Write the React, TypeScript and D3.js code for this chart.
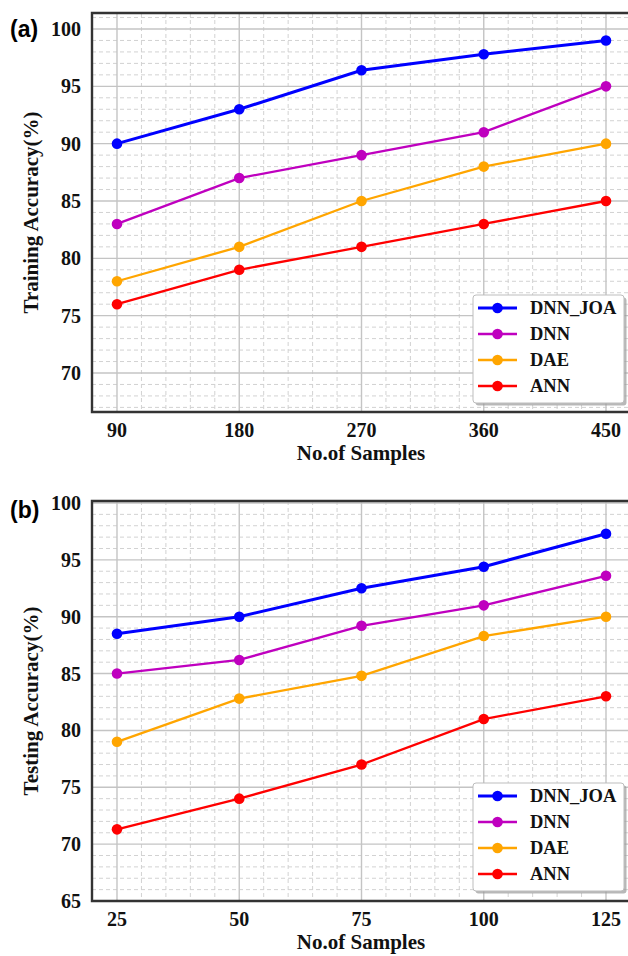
import React from "react";
import * as d3 from "d3";

const seriesNames = ["DNN_JOA", "DNN", "DAE", "ANN"];
const seriesColors = ["#0000ff", "#bf00bf", "#ffa500", "#ff0000"];
const seriesWidths = [3, 2.3, 2.3, 2.3];

const samplesA = [90, 180, 270, 360, 450];
const trainDNNJOA = [90, 93, 96.4, 97.8, 99];
const trainDNN = [83, 87, 89, 91, 95];
const trainDAE = [78, 81, 85, 88, 90];
const trainANN = [76, 79, 81, 83, 85];
const yTicksA = [70, 75, 80, 85, 90, 95, 100];

const samplesB = [25, 50, 75, 100, 125];
const testDNNJOA = [88.5, 90, 92.5, 94.4, 97.3];
const testDNN = [85, 86.2, 89.2, 91, 93.6];
const testDAE = [79, 82.8, 84.8, 88.3, 90];
const testANN = [71.3, 74, 77, 81, 83];
const yTicksB = [65, 70, 75, 80, 85, 90, 95, 100];

const SERIF = "'Liberation Serif', 'Times New Roman', serif";
const SANS = "'Liberation Sans', Arial, sans-serif";

type PanelProps = {
  label: string;
  yTitle: string;
  xs: number[];
  series: number[][];
  yTicks: number[];
  xMinorStep: number;
  xMap: [number, number];
  yMap: [number, number, number, number];
  plotTop: number;
  plotBottom: number;
  legendTop: number;
  labelY: number;
};

function Panel(p: PanelProps) {
  const left = 92;
  const right = 628;
  const x = d3.scaleLinear().domain([p.xs[0], p.xs[p.xs.length - 1]]).range(p.xMap);
  const y = d3.scaleLinear().domain([p.yMap[0], p.yMap[1]]).range([p.yMap[2], p.yMap[3]]);
  const xMin = x.invert(left), xMax = x.invert(right);
  const yMin = y.invert(p.plotBottom), yMax = y.invert(p.plotTop);
  const xMinor = d3.range(Math.ceil(xMin / p.xMinorStep) * p.xMinorStep, xMax, p.xMinorStep)
    .filter((v) => !p.xs.includes(v));
  const yMinor = d3.range(Math.ceil(yMin), yMax, 1).filter((v) => v % 5 !== 0);
  const yMajor = d3.range(Math.ceil(yMin / 5) * 5, yMax, 5);
  const line = d3.line<number>().x((_, i) => x(p.xs[i])).y((v) => y(v));
  const clipId = "clip" + p.label.replace(/\W/g, "");
  const midY = (p.plotTop + p.plotBottom) / 2;
  const legX = 473, legW = 151, legH = 108;
  return (
    <g>
      <defs>
        <clipPath id={clipId}>
          <rect x={left} y={p.plotTop} width={right - left} height={p.plotBottom - p.plotTop} />
        </clipPath>
      </defs>
      <g clipPath={`url(#${clipId})`}>
        {yMinor.map((v) => (
          <line key={"ym" + v} x1={left} x2={right} y1={y(v)} y2={y(v)} stroke="#d2d2d2" strokeWidth={1} strokeDasharray="4,3" />
        ))}
        {xMinor.map((v) => (
          <line key={"xm" + v} x1={x(v)} x2={x(v)} y1={p.plotTop} y2={p.plotBottom} stroke="#d2d2d2" strokeWidth={1} strokeDasharray="4,3" />
        ))}
        {yMajor.map((v) => (
          <line key={"yM" + v} x1={left} x2={right} y1={y(v)} y2={y(v)} stroke="#c4c4c4" strokeWidth={1.4} />
        ))}
        {p.xs.map((v) => (
          <line key={"xM" + v} x1={x(v)} x2={x(v)} y1={p.plotTop} y2={p.plotBottom} stroke="#c4c4c4" strokeWidth={1.4} />
        ))}
        {p.series.slice().reverse().map((s, ri) => {
          const i = p.series.length - 1 - ri;
          return (
            <g key={"s" + i}>
              <path d={line(s) || ""} fill="none" stroke={seriesColors[i]} strokeWidth={seriesWidths[i]} />
              {s.map((v, j) => (
                <circle key={j} cx={x(p.xs[j])} cy={y(v)} r={5.3} fill={seriesColors[i]} />
              ))}
            </g>
          );
        })}
      </g>
      <path d={`M${right},${p.plotTop}H${left}V${p.plotBottom}H${right}`} fill="none" stroke="#333" strokeWidth={2.4} />
      {p.yTicks.map((v) => (
        <text key={"yt" + v} x={81} y={y(v)} dy="0.35em" textAnchor="end" fontFamily={SERIF} fontWeight="bold" fontSize={20} fill="#111">
          {v}
        </text>
      ))}
      {p.xs.map((v) => (
        <text key={"xt" + v} x={x(v)} y={p.plotBottom + 25} textAnchor="middle" fontFamily={SERIF} fontWeight="bold" fontSize={20} fill="#111">
          {v}
        </text>
      ))}
      <text x={361} y={p.plotBottom + 48} textAnchor="middle" fontFamily={SERIF} fontWeight="bold" fontSize={21} fill="#111">
        No.of Samples
      </text>
      <text transform={`translate(38,${midY}) rotate(-90)`} textAnchor="middle" fontFamily={SERIF} fontWeight="bold" fontSize={21} fill="#111">
        {p.yTitle}
      </text>
      <text x={10} y={p.labelY} fontFamily={SANS} fontWeight="bold" fontSize={23} fill="#000">
        {p.label}
      </text>
      <rect x={legX + 2.5} y={p.legendTop + 2.5} width={legW} height={legH} rx={3} fill="#9a9a9a" opacity={0.7} />
      <rect x={legX} y={p.legendTop} width={legW} height={legH} rx={3} fill="#fff" stroke="#bdbdbd" strokeWidth={1} />
      {seriesNames.map((n, i) => {
        const ry = p.legendTop + 13 + i * 26;
        return (
          <g key={"lg" + n}>
            <line x1={478} x2={517} y1={ry} y2={ry} stroke={seriesColors[i]} strokeWidth={seriesWidths[i]} />
            <circle cx={497.5} cy={ry} r={5.3} fill={seriesColors[i]} />
            <text x={530} y={ry} dy="0.35em" fontFamily={SERIF} fontWeight="bold" fontSize={18.5} fill="#111">
              {n}
            </text>
          </g>
        );
      })}
    </g>
  );
}

export default function App() {
  return (
    <svg width={628} height={956} style={{ position: "absolute", left: 0, top: 0, background: "#fff" }}>
      <rect width={628} height={956} fill="#fff" />
      <Panel
        label="(a)"
        yTitle="Training Accuracy(%)"
        xs={samplesA}
        series={[trainDNNJOA, trainDNN, trainDAE, trainANN]}
        yTicks={yTicksA}
        xMinorStep={18}
        xMap={[117, 606]}
        yMap={[70, 100, 373, 29]}
        plotTop={13}
        plotBottom={412}
        legendTop={295}
        labelY={37}
      />
      <Panel
        label="(b)"
        yTitle="Testing Accuracy(%)"
        xs={samplesB}
        series={[testDNNJOA, testDNN, testDAE, testANN]}
        yTicks={yTicksB}
        xMinorStep={5}
        xMap={[117, 606]}
        yMap={[65, 100, 901, 503]}
        plotTop={501}
        plotBottom={901}
        legendTop={783}
        labelY={518}
      />
    </svg>
  );
}
